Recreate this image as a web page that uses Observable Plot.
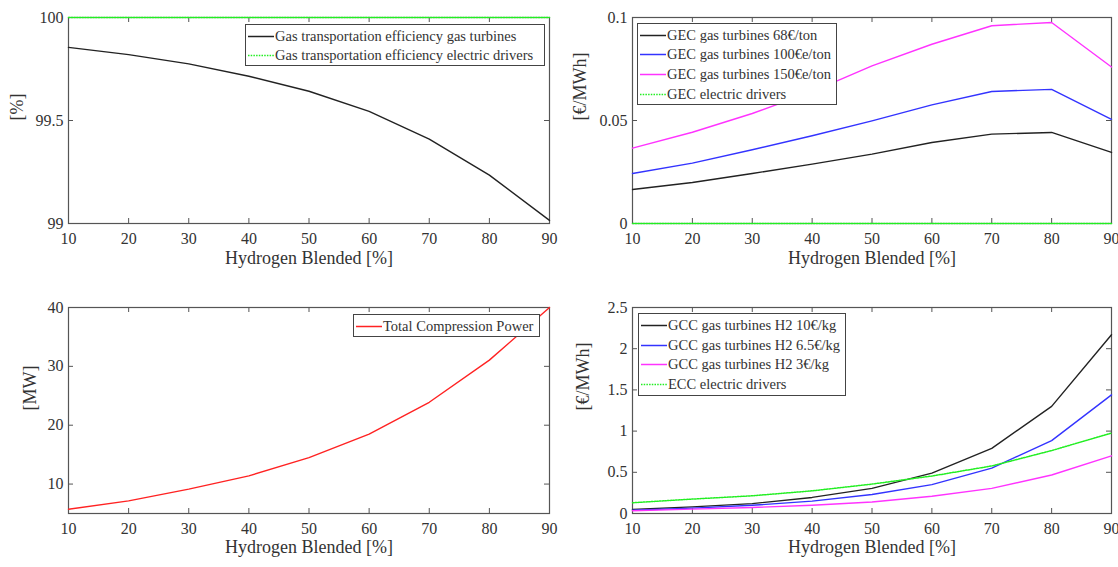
<!DOCTYPE html>
<html>
<head>
<meta charset="utf-8">
<script src="https://cdn.jsdelivr.net/npm/d3@7"></script>
<script src="https://cdn.jsdelivr.net/npm/@observablehq/plot@0.6"></script>
<style>
  html, body { margin: 0; padding: 0; background: #fff; font-family: "Liberation Serif", serif; }
  #root { position: relative; width: 1118px; height: 567px; overflow: hidden; font-family: "Liberation Serif", serif; color: #333; }
  #root svg, #root svg text, #root svg g { font-family: "Liberation Serif", serif !important; }
  .panel { position: absolute; }
  .legend { position: absolute; box-sizing: border-box; border: 1px solid #444; background: #fff; }
  .row { position: absolute; left: 0; height: 18px; white-space: nowrap; font-size: 14.5px; line-height: 18px; color: #333; }
  .row svg { position: absolute; left: 2px; top: 0; }
  .row span { position: absolute; left: 29px; top: 0; }
</style>
</head>
<body>
<div id="root"></div>
<script>
// ---------- data ----------
const hydrogenBlended = [10, 20, 30, 40, 50, 60, 70, 80, 90];
const xTicks = [10, 20, 30, 40, 50, 60, 70, 80, 90];
const xLabel = "Hydrogen Blended [%]";

// Panel 1: gas transportation efficiency [%]
const effGasTurbines = [99.855, 99.82, 99.775, 99.715, 99.642, 99.544, 99.41, 99.235, 99.015];
const effElectricDrivers = [100, 100, 100, 100, 100, 100, 100, 100, 100];
const effTicks = [99, 99.5, 100];

// Panel 2: GEC [€/MWh]
const gec68 = [0.0165, 0.0199, 0.0243, 0.0288, 0.0337, 0.0393, 0.0434, 0.0442, 0.0345];
const gec100 = [0.0243, 0.0293, 0.0358, 0.0426, 0.0498, 0.0576, 0.0641, 0.0651, 0.0506];
const gec150 = [0.0366, 0.0443, 0.0534, 0.0640, 0.0765, 0.0870, 0.0960, 0.0976, 0.0760];
const gecElectric = [0, 0, 0, 0, 0, 0, 0, 0, 0];
const gecTicks = [0, 0.05, 0.1];

// Panel 3: total compression power [MW]
const compressionPower = [5.73, 7.15, 9.15, 11.4, 14.5, 18.5, 23.9, 31.06, 40.0];
const powerTicks = [10, 20, 30, 40];

// Panel 4: GCC / ECC [€/MWh]
const gccH2_10 = [0.05, 0.08, 0.12, 0.195, 0.305, 0.49, 0.79, 1.30, 2.17];
const gccH2_65 = [0.04, 0.065, 0.10, 0.15, 0.23, 0.35, 0.55, 0.885, 1.44];
const gccH2_3 = [0.033, 0.053, 0.073, 0.10, 0.14, 0.21, 0.305, 0.467, 0.70];
const eccElectric = [0.13, 0.175, 0.215, 0.275, 0.357, 0.455, 0.577, 0.764, 0.976];
const costTicks = [0, 0.5, 1, 1.5, 2, 2.5];

const BLACK = "#222", BLUE = "#3333ff", MAGENTA = "#ff33ff", GREEN = "#22ee22", RED = "#ff2222";
const AXIS = "#555";
const FONT = "Liberation Serif";

const panels = [
  {
    left: 0, top: 0, width: 559, height: 283,
    margin: {left: 68, right: 10, top: 17, bottom: 60},
    yDomain: [99, 100], yTicks: effTicks, yLabel: "[%]", yLabelDx: -51, xLabelDy: 40,
    series: [
      {name: "Gas transportation efficiency gas turbines", values: effGasTurbines, color: BLACK},
      {name: "Gas transportation efficiency electric drivers", values: effElectricDrivers, color: GREEN, dotted: true}
    ],
    legend: {left: 245, top: 24, width: 300, height: 42, rowTops: [26, 45]}
  },
  {
    left: 559, top: 0, width: 559, height: 283,
    margin: {left: 73, right: 7, top: 17, bottom: 60},
    yDomain: [0, 0.1], yTicks: gecTicks, yLabel: "[€/MWh]", yLabelDx: -52, xLabelDy: 40,
    series: [
      {name: "GEC gas turbines 68€/ton", values: gec68, color: BLACK},
      {name: "GEC gas turbines 100€e/ton", values: gec100, color: BLUE},
      {name: "GEC gas turbines 150€e/ton", values: gec150, color: MAGENTA},
      {name: "GEC electric drivers", values: gecElectric, color: GREEN, dotted: true}
    ],
    legend: {left: 637, top: 23, width: 200, height: 82, rowTops: [25, 44, 64, 84]}
  },
  {
    left: 0, top: 283, width: 559, height: 284,
    margin: {left: 68, right: 10, top: 24, bottom: 54},
    yDomain: [5, 40], yTicks: powerTicks, yLabel: "[MW]", yLabelDx: -38, xLabelDy: 39,
    series: [
      {name: "Total Compression Power", values: compressionPower, color: RED}
    ],
    legend: {left: 353, top: 314, width: 187, height: 23, rowTops: [316]}
  },
  {
    left: 559, top: 283, width: 559, height: 284,
    margin: {left: 73, right: 7, top: 24, bottom: 54},
    yDomain: [0, 2.5], yTicks: costTicks, yLabel: "[€/MWh]", yLabelDx: -49, xLabelDy: 39,
    series: [
      {name: "GCC gas turbines H2 10€/kg", values: gccH2_10, color: BLACK},
      {name: "GCC gas turbines H2 6.5€/kg", values: gccH2_65, color: BLUE},
      {name: "GCC gas turbines H2 3€/kg", values: gccH2_3, color: MAGENTA},
      {name: "ECC electric drivers", values: eccElectric, color: GREEN, dotted: true}
    ],
    legend: {left: 638, top: 313, width: 208, height: 83, rowTops: [315, 335, 354, 374]}
  }
];

const root = document.getElementById("root");

for (const p of panels) {
  const innerW = p.width - p.margin.left - p.margin.right;
  const innerH = p.height - p.margin.top - p.margin.bottom;
  const tickLen = 5;
  const marks = [
    Plot.frame({stroke: AXIS, strokeWidth: 1.2}),
    // inward ticks: bottom/top for x, left/right for y
    Plot.ruleX(xTicks, {x: d => d, insetTop: innerH - tickLen, stroke: AXIS}),
    Plot.ruleX(xTicks, {x: d => d, insetBottom: innerH - tickLen, stroke: AXIS}),
    Plot.ruleY(p.yTicks, {y: d => d, insetRight: innerW - tickLen, stroke: AXIS}),
    Plot.ruleY(p.yTicks, {y: d => d, insetLeft: innerW - tickLen, stroke: AXIS}),
    Plot.axisX({ticks: xTicks, tickSize: 0, tickPadding: 9, tickFormat: d => `${d}`, label: null, fontSize: 16, fontFamily: FONT, fill: "#333"}),
    Plot.axisY({ticks: p.yTicks, tickSize: 0, tickPadding: 5, tickFormat: d => `${d}`, label: null, fontSize: 16, fontFamily: FONT, fill: "#333"}),
    Plot.text([xLabel], {text: d => d, frameAnchor: "bottom", dy: p.xLabelDy, fontSize: 18, fontFamily: FONT, fill: "#333"}),
    Plot.text([p.yLabel], {text: d => d, frameAnchor: "left", dx: p.yLabelDx, rotate: -90, fontSize: 18, fontFamily: FONT, fill: "#333"})
  ];
  for (const s of p.series) {
    marks.push(Plot.line(hydrogenBlended.map((x, i) => ({x, y: s.values[i]})), {
      x: "x", y: "y", stroke: s.color, strokeWidth: s.dotted ? 1.5 : 1.4,
      strokeDasharray: s.dotted ? "1.5,1.2" : null
    }));
  }
  const chart = Plot.plot({
    width: p.width, height: p.height,
    marginLeft: p.margin.left, marginRight: p.margin.right,
    marginTop: p.margin.top, marginBottom: p.margin.bottom,
    style: {fontFamily: FONT, fontSize: "16px", color: "#333", background: "transparent", overflow: "visible"},
    x: {domain: [10, 90]},
    y: {domain: p.yDomain},
    marks
  });
  const wrap = document.createElement("div");
  wrap.className = "panel";
  wrap.style.left = p.left + "px";
  wrap.style.top = p.top + "px";
  wrap.appendChild(chart);
  root.appendChild(wrap);

  // legend box
  const lg = document.createElement("div");
  lg.className = "legend";
  lg.style.left = p.legend.left + "px";
  lg.style.top = p.legend.top + "px";
  lg.style.width = p.legend.width + "px";
  lg.style.height = p.legend.height + "px";
  p.series.forEach((s, i) => {
    const row = document.createElement("div");
    row.className = "row";
    row.style.top = (p.legend.rowTops[i] - p.legend.top) + "px";
    row.style.width = (p.legend.width - 2) + "px";
    const dash = s.dotted ? 'stroke-dasharray="1.5,1.2"' : "";
    row.innerHTML = `<svg width="26" height="18"><line x1="0" x2="26" y1="9.5" y2="9.5" stroke="${s.color}" stroke-width="1.5" ${dash}/></svg><span>${s.name}</span>`;
    lg.appendChild(row);
  });
  root.appendChild(lg);
}
</script>
</body>
</html>
